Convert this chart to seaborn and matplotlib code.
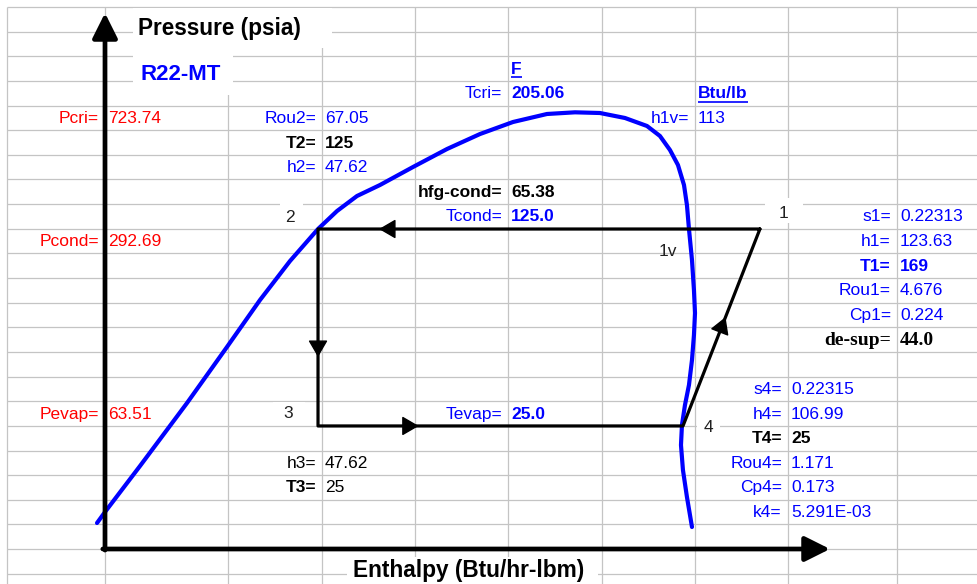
import numpy as np
import pandas as pd
import matplotlib
matplotlib.use("Agg")
import matplotlib.pyplot as plt
from matplotlib.patches import Rectangle
import seaborn as sns

# ---------------- data ----------------
# saturation dome (enthalpy-like chart units, pressure psia)
dome_h = [11.67, 12.97, 18.66, 26.31, 32.81, 38.18, 43.06, 47.62, 50.71, 53.96,
          57.70, 63.07, 68.60, 73.97, 79.33, 84.86, 89.42, 93.48, 97.55, 101.13,
          103.24, 104.87, 106.17, 107.15, 107.63, 107.96, 108.45, 108.77, 108.94,
          108.77, 108.45, 107.96, 107.31, 106.82, 106.66, 106.98, 107.63, 108.45]
dome_p = [29.91, 32.58, 46.54, 75.88, 117.2, 168.7, 228.3, 292.69, 336.5, 378.1,
          411.8, 473.5, 544.4, 611.6, 671.3, 714.4, 723.74, 719.9, 692.6, 650.9,
          602.3, 540.2, 480.9, 411.8, 352.6, 292.69, 230.1, 182.3, 152.5,
          128.6, 105.9, 87.26, 74.72, 63.99, 54.78, 45.13, 36.60, 29.00]
# refrigeration cycle 1 -> 2 -> 3 -> 4 -> 1
cycle_h = [119.5, 47.62, 47.62, 106.99, 119.5]
cycle_p = [292.69, 292.69, 63.51, 63.51, 292.69]
cycle_arrow_frac = [0.862, 0.65, 0.276, 0.553]

# text table
left_labels = [("Pcri=", "723.74"), ("Pcond=", "292.69"), ("Pevap=", "63.51")]
state2_labels = [("Rou2=", "67.05"), ("T2=", "125"), ("h2=", "47.62")]
state3_labels = [("h3=", "47.62"), ("T3=", "25")]
mid_labels = [("Tcri=", "205.06"), ("hfg-cond=", "65.38"), ("Tcond=", "125.0"), ("Tevap=", "25.0")]
state1_labels = [("s1=", "0.22313"), ("h1=", "123.63"), ("T1=", "169"),
                 ("Rou1=", "4.676"), ("Cp1=", "0.224"), ("de-sup=", "44.0")]
state4_labels = [("s4=", "0.22315"), ("h4=", "106.99"), ("T4=", "25"),
                 ("Rou4=", "1.171"), ("Cp4=", "0.173"), ("k4=", "5.291E-03")]
h1v_label = ("h1v=", "113")

# ---------------- style ----------------
sns.set_theme(style="white")
plt.rcParams["font.family"] = ["Liberation Sans", "DejaVu Sans"]

W, H = 977, 584
BLUE, RED, BLACK = "#0000ff", "#ff0000", "#000000"
FS = 12.5

fig = plt.figure(figsize=(W / 100, H / 100), dpi=100)
fig.patch.set_facecolor("white")

# spreadsheet background
bg = fig.add_axes([0, 0, 1, 1], zorder=0)
bg.set_xlim(0, W)
bg.set_ylim(H, 0)
bg.axis("off")

col_lines = [7, 105, 228, 322, 415, 508, 602, 695, 788, 897]
row_h = 24.64
row_lines = [7 + row_h * k for k in range(24)]
gc = "#c4c4c4"
for y in row_lines:
    bg.plot([7, W], [y, y], color=gc, lw=0.9, zorder=1, solid_capstyle="butt")
for x in col_lines:
    bg.plot([x, x], [7, H], color=gc, lw=0.9, zorder=1, solid_capstyle="butt")


def rc(k):
    return 7 + row_h * k + row_h / 2 + 0.5


def wbox(x0, y0, x1, y1):
    bg.add_patch(Rectangle((x0, y0), x1 - x0, y1 - y0, facecolor="white",
                           edgecolor="none", zorder=2))


def put(x, y, s, color=BLACK, ha="left", bold=False, size=FS, family=None):
    kw = {}
    if family:
        kw["family"] = family
    return bg.text(x, y, s, color=color, ha=ha, va="center",
                   fontweight="bold" if bold else "normal", fontsize=size,
                   zorder=3, **kw)


def pair(col, k, lab, val, lc, vc, lb=False, vb=False, family=None, size=FS):
    put(col - 6, rc(k), lab, lc, "right", lb, family=family, size=size)
    put(col + 3, rc(k), val, vc, "left", vb, family=family, size=size)


# white boxes behind titles and point numbers
wbox(133, 8, 332, 48)
wbox(133, 48, 233, 95)
wbox(347, 557, 598, H)
wbox(280, 200, 303, 228)
wbox(765, 198, 803, 223)
wbox(273, 402, 305, 425)
wbox(697, 415, 720, 441)

put(138, 29, "Pressure (psia)", BLACK, bold=True, size=16.3)
put(140, 75, "R22-MT", BLUE, bold=True, size=16)
put(353, 571, "Enthalpy (Btu/hr-lbm)", BLACK, bold=True, size=16.3)

# left pressures
for (lab, val), k in zip(left_labels, [4, 9, 16]):
    pair(105, k, lab, val, RED, RED)

# state 2
pair(322, 4, *state2_labels[0], BLUE, BLUE)
pair(322, 5, *state2_labels[1], BLACK, BLACK, True, True)
pair(322, 6, *state2_labels[2], BLUE, BLUE)
# state 3
pair(322, 18, *state3_labels[0], BLACK, BLACK)
pair(322, 19, *state3_labels[1], BLACK, BLACK, True, False)

# middle column
tF = put(511, rc(2), "F", BLUE, bold=True)
pair(508, 3, *mid_labels[0], BLUE, BLUE, False, True)
pair(508, 7, *mid_labels[1], BLACK, BLACK, True, True)
pair(508, 8, *mid_labels[2], BLUE, BLUE, False, True)
pair(508, 16, *mid_labels[3], BLUE, BLUE, False, True)

tB = put(698, rc(3), "Btu/lb", BLUE, bold=True)
pair(695, 4, *h1v_label, BLUE, BLUE)

# state 1
for i, (lab, val) in enumerate(state1_labels):
    k = 8 + i
    if lab == "T1=":
        pair(897, k, lab, val, BLUE, BLUE, True, True)
    elif lab == "de-sup=":
        pair(897, k, lab, val, BLACK, BLACK, True, True,
             family="Liberation Serif", size=14)
    else:
        pair(897, k, lab, val, BLUE, BLUE)

# state 4
for i, (lab, val) in enumerate(state4_labels):
    k = 15 + i
    if lab == "T4=":
        pair(788, k, lab, val, BLACK, BLACK, True, True)
    else:
        pair(788, k, lab, val, BLUE, BLUE)

# point numbers
put(290, 217, "2", "#202020", "center")
put(783, 214, "1", "#202020", "center")
put(288, 413, "3", "#202020", "center")
put(708, 428, "4", "#202020", "center")
put(668, 252, "1v", "#202020", "center")

# ---------------- chart ----------------
ax = fig.add_axes([105 / W, 1 - 549 / H, (830 - 105) / W, (549 - 13) / H], zorder=2)
ax.patch.set_alpha(0)
ax.set_yscale("log")

dome = pd.DataFrame({"h": dome_h, "p": dome_p})
cycle = pd.DataFrame({"h": cycle_h, "p": cycle_p})
sns.lineplot(data=dome, x="h", y="p", sort=False, estimator=None, color=BLUE,
             lw=3.0, ax=ax, clip_on=False)
sns.lineplot(data=cycle, x="h", y="p", sort=False, estimator=None, color=BLACK,
             lw=2.3, ax=ax, clip_on=False)
ax.set_xlim(12.97, 130.90)
ax.set_ylim(24.45, 1563.9)
ax.axis("off")

# axis arrows
arrow_kw = dict(arrowstyle="-|>,head_length=0.4,head_width=0.2", mutation_scale=38,
                lw=3.4, color="black", shrinkA=0, shrinkB=0)
ax.annotate("", xy=(0, 1), xytext=(0, -0.002), xycoords="axes fraction",
            textcoords="axes fraction", arrowprops=arrow_kw, annotation_clip=False)
ax.annotate("", xy=(1, 0), xytext=(-0.003, 0), xycoords="axes fraction",
            textcoords="axes fraction", arrowprops=arrow_kw, annotation_clip=False)

# direction arrows on cycle
inv = ax.transData.inverted()
for i, frac in enumerate(cycle_arrow_frac):
    p0 = ax.transData.transform((cycle_h[i], cycle_p[i]))
    p1 = ax.transData.transform((cycle_h[i + 1], cycle_p[i + 1]))
    tip = p0 + (p1 - p0) * frac
    u = (p1 - p0) / np.hypot(*(p1 - p0))
    tail = tip - u * 14
    ax.annotate("", xy=inv.transform(tip), xytext=inv.transform(tail),
                xycoords="data", textcoords="data",
                arrowprops=dict(arrowstyle="-|>,head_length=0.55,head_width=0.32",
                                mutation_scale=19, lw=1, color="black",
                                shrinkA=0, shrinkB=0),
                annotation_clip=False)

# underlines for unit headers
fig.canvas.draw()
r = fig.canvas.get_renderer()
for t in (tF, tB):
    bb = t.get_window_extent(r)
    yb = H - bb.y0 + 0.5
    bg.plot([bb.x0, bb.x1], [yb, yb], color=BLUE, lw=1.2, zorder=3,
            solid_capstyle="butt")

fig.savefig("out.png", dpi=100, facecolor="white")
